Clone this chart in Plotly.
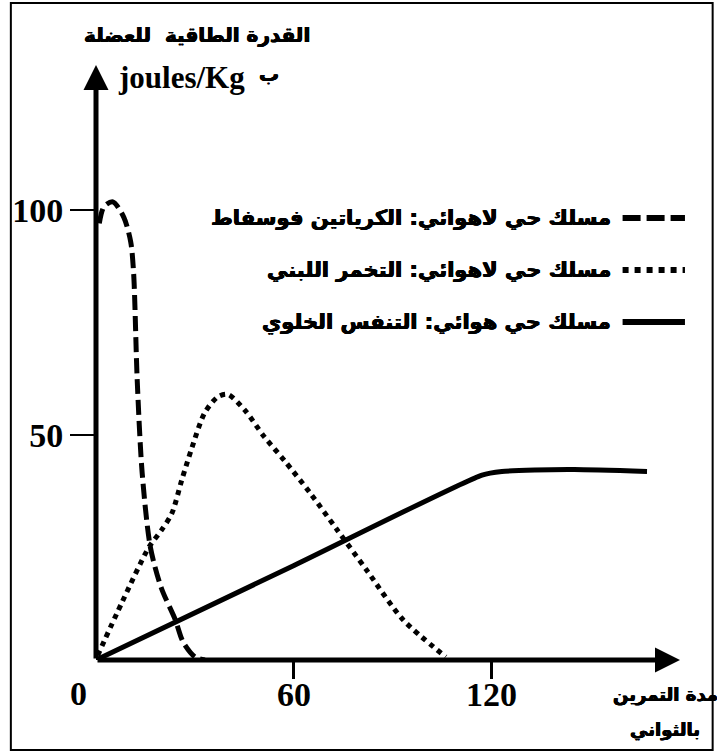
import plotly.graph_objects as go

# ---- data ----
pcr_t = [1, 2.4, 5.1, 8.4, 10.5, 11.4, 12.5, 14, 16.5, 19.8, 24, 26.4, 30, 33]
pcr_v = [97, 100.7, 101.8, 98.4, 93, 86, 62, 41.5, 25, 16, 9, 4, 0.7, 0]

lac_t = [0.5, 8, 16, 20, 23, 26, 29, 33, 37, 40, 45, 51, 57, 65, 73, 82, 93, 106]
lac_v = [1, 13, 25, 29, 32.6, 40, 47, 55, 58.5, 59, 55.6, 49.6, 44.4, 37, 29, 20, 9, 0.7]

aer_t = [0, 60, 117, 123, 133, 145, 167]
aer_v = [0, 21, 41.1, 41.9, 42.2, 42.3, 41.9]

x_ticks = [60, 120]
x_ticktext = ["60", "120"]
y_ticks = [50, 100]
y_ticktext = ["50", "100"]

names = ["مسلك حي لاهوائي: الكرياتين فوسفاط",
         "مسلك حي لاهوائي: التخمر اللبني",
         "مسلك حي هوائي: التنفس الخلوي"]
y_title1 = "القدرة الطاقية  للعضلة"
y_title2a = "joules/Kg"
y_title2b = "ب"
x_title1 = "مدة التمرين"
x_title2 = "بالثواني"

X_MAX = 177
Y_MAX = 132.2

AR = "DejaVu Sans"
SERIF = "Liberation Serif"
SH = "0.5px 0 0 black, -0.5px 0 0 black, 0 0.4px 0 black"


def ar_font(size):
    return dict(family=AR, size=size, color="black", weight="bold", shadow=SH)


fig = go.Figure()
fig.add_trace(go.Scatter(x=pcr_t, y=pcr_v, mode="lines", name=names[0],
                         line=dict(color="black", width=5, dash="15px,6px", shape="spline", smoothing=0.8)))
fig.add_trace(go.Scatter(x=lac_t, y=lac_v, mode="lines", name=names[1],
                         line=dict(color="black", width=5, dash="5px,5px", shape="spline", smoothing=0.8)))
fig.add_trace(go.Scatter(x=aer_t, y=aer_v, mode="lines", name=names[2],
                         line=dict(color="black", width=5, shape="spline", smoothing=0.6)))

# axes with arrows
fig.add_annotation(x=X_MAX, y=0, ax=0, ay=0, xref="x", yref="y", axref="x", ayref="y",
                   text="", showarrow=True, arrowhead=2, arrowwidth=5, arrowsize=1, arrowcolor="black")
fig.add_annotation(x=0, y=Y_MAX, ax=0, ay=0, xref="x", yref="y", axref="x", ayref="y",
                   text="", showarrow=True, arrowhead=2, arrowwidth=5, arrowsize=1, arrowcolor="black")

# x tick labels (placed close under the ticks, as in the reference)
for tv, tt in zip(x_ticks, x_ticktext):
    fig.add_annotation(x=tv, y=-0.0588, xref="x", yref="paper", text=tt, showarrow=False,
                       xanchor="center", yanchor="middle",
                       font=dict(family=SERIF, size=34, color="black", weight="bold"))
# origin label
fig.add_annotation(x=-0.0305, y=-0.0555, xref="paper", yref="paper", text="0", showarrow=False,
                   xanchor="center", yanchor="middle",
                   font=dict(family=SERIF, size=34, color="black", weight="bold"))

# y title
fig.add_annotation(x=0.1729, y=1.0504, xref="paper", yref="paper", text=y_title1, showarrow=False,
                   xanchor="center", yanchor="middle", font=ar_font(20))
fig.add_annotation(x=0.258, y=0.979, xref="paper", yref="paper", text=y_title2a, showarrow=False,
                   xanchor="right", yanchor="middle",
                   font=dict(family=SERIF, size=31, color="black", weight="bold"))
fig.add_annotation(x=0.275, y=0.985, xref="paper", yref="paper", text=y_title2b, showarrow=False,
                   xanchor="left", yanchor="middle", font=ar_font(20))

# x title
fig.add_annotation(x=0.9746, y=-0.0588, xref="paper", yref="paper", text=x_title1, showarrow=False,
                   xanchor="center", yanchor="middle", font=ar_font(18))
fig.add_annotation(x=0.9746, y=-0.1176, xref="paper", yref="paper", text=x_title2, showarrow=False,
                   xanchor="center", yanchor="middle", font=ar_font(18))

# legend (symbol at right of text)
rows = [0.7429, 0.6555, 0.568]
dashes = ["18px,6px", "6px,6px", "solid"]
for nm, ry, ds in zip(names, rows, dashes):
    fig.add_annotation(x=0.8847, y=ry, xref="paper", yref="paper", text=nm, showarrow=False,
                       xanchor="right", yanchor="middle", font=ar_font(21))
    fig.add_shape(type="line", xref="paper", yref="paper", x0=0.9017, x1=1.0085, y0=ry, y1=ry,
                  line=dict(color="black", width=6, dash=ds))

# frame
fig.add_shape(type="rect", xref="paper", yref="paper", x0=-0.1458, x1=1.0559, y0=-0.1513, y1=1.104,
              line=dict(color="black", width=2))

fig.update_layout(
    width=717, height=753,
    margin=dict(l=90, r=37, t=65, b=93),
    paper_bgcolor="white", plot_bgcolor="white",
    showlegend=False,
    xaxis=dict(range=[0, X_MAX], showgrid=False, zeroline=False, showline=False,
               tickvals=x_ticks, ticktext=x_ticktext, ticks="outside", ticklen=18, tickwidth=3,
               tickcolor="black", showticklabels=False),
    yaxis=dict(range=[0, Y_MAX], showgrid=False, zeroline=False, showline=False,
               tickvals=y_ticks, ticktext=y_ticktext, ticks="outside", ticklen=25, tickwidth=2,
               tickcolor="black",
               tickfont=dict(family=SERIF, size=34, color="black", weight="bold")),
)

fig.write_html("out.html", config={"displayModeBar": False},
               post_script="document.body.style.margin='0';document.body.style.overflow='hidden';")
